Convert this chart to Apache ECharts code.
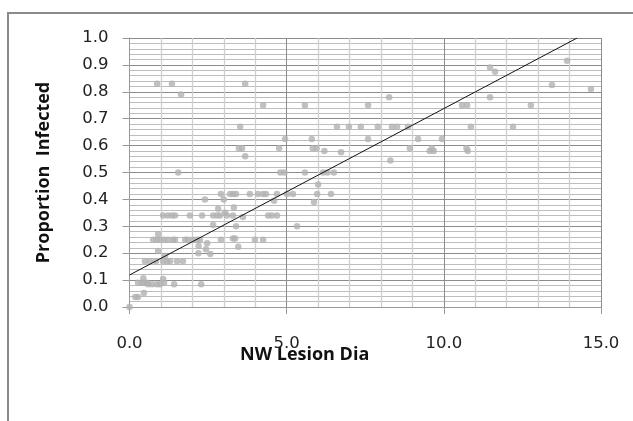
<!DOCTYPE html>
<html><head><meta charset="utf-8">
<script src="https://cdn.jsdelivr.net/npm/echarts@6/dist/echarts.min.js"></script>
<style>html,body{margin:0;padding:0;background:#fff}#c{width:633px;height:421px}</style>
</head><body><div id="c"></div>
<script>
// Scatter observations [NW Lesion Dia, Proportion Infected]
const upperPoints = [
 [0.88,0.83],[1.35,0.83],[1.64,0.79],[3.68,0.83],[4.25,0.75],[5.58,0.75],[3.52,0.67],
 [3.48,0.59],[3.58,0.59],[3.68,0.56],[1.55,0.50],[4.76,0.59],[4.95,0.625],[4.80,0.50],
 [4.93,0.50],[5.58,0.50],[5.80,0.625],[5.83,0.59],[5.95,0.59],[6.20,0.58],[6.60,0.67],
 [6.98,0.67],[7.36,0.67],[7.90,0.67],[8.35,0.67],[8.51,0.67],[8.86,0.67],[7.59,0.75],
 [8.26,0.78],[7.59,0.625],[6.73,0.575],[8.92,0.59],[9.18,0.625],[9.55,0.58],[9.62,0.59],
 [9.68,0.58],[9.94,0.625],[8.30,0.545],[6.16,0.50],[6.30,0.50],[6.50,0.50],[6.00,0.455],
 [5.97,0.42],[6.41,0.42],[5.87,0.39],[10.58,0.75],[10.74,0.75],[11.47,0.89],[11.63,0.875],
 [11.47,0.78],[10.86,0.67],[10.72,0.59],[10.76,0.58],[12.20,0.67],[12.77,0.75],[13.44,0.825],
 [13.92,0.915],[14.68,0.81]
];
const middlePoints = [
 [2.91,0.42],[3.20,0.42],[3.30,0.42],[3.39,0.42],[3.83,0.42],[4.09,0.42],[4.25,0.42],
 [4.34,0.42],[4.69,0.42],[5.01,0.42],[5.20,0.42],[2.40,0.40],[3.00,0.40],[4.60,0.395],
 [3.32,0.37],[2.82,0.365],[3.04,0.35],
 [1.07,0.34],[1.22,0.34],[1.35,0.34],[1.45,0.34],[1.92,0.34],[2.31,0.34],[2.66,0.34],
 [2.78,0.34],[2.88,0.34],[3.10,0.34],[3.29,0.34],[3.61,0.335],[4.41,0.34],[4.53,0.34],
 [4.69,0.34],[2.66,0.305],[3.39,0.30],[5.33,0.30]
];
const lowerPoints = [
 [0.75,0.25],[0.87,0.25],[0.97,0.25],[1.10,0.25],[1.22,0.25],[1.38,0.25],[1.45,0.25],
 [1.77,0.25],[1.86,0.25],[2.02,0.25],[2.15,0.25],[2.24,0.25],[2.91,0.25],[3.29,0.255],
 [3.36,0.255],[3.99,0.25],[4.25,0.25],[0.91,0.27],[2.20,0.227],[2.47,0.237],[0.91,0.208],
 [2.19,0.20],[2.43,0.215],[2.57,0.197],[3.46,0.224],
 [0.49,0.17],[0.65,0.17],[0.84,0.17],[1.07,0.17],[1.19,0.17],[1.29,0.17],[1.51,0.17],
 [1.70,0.17],[1.13,0.19],
 [0.27,0.09],[0.40,0.09],[0.46,0.09],[0.56,0.09],[0.59,0.085],[0.72,0.085],[0.87,0.085],
 [0.97,0.085],[1.10,0.09],[1.42,0.085],[2.28,0.085],[0.44,0.107],[1.07,0.104],
 [0.18,0.037],[0.27,0.037],[0.46,0.052],[0.00,0.00]
];
const trendLine = [[0,0.119],[14.24,1.0]];
const xTicks = [0,5,10,15];
const yTicks = [0,0.1,0.2,0.3,0.4,0.5,0.6,0.7,0.8,0.9,1.0];

const chart = echarts.init(document.getElementById('c'), null, {renderer:'canvas'});
chart.setOption({
  animation:false,
  backgroundColor:'#fff',
  grid:{left:129.5,right:32,top:38,bottom:114,containLabel:false},
  xAxis:{type:'value',min:xTicks[0],max:xTicks[xTicks.length-1],interval:5,
    axisLine:{show:true,lineStyle:{color:'#999',width:1}},
    axisTick:{show:true,length:7,inside:false,lineStyle:{color:'#999'}},
    axisLabel:{margin:28,color:'#222',fontFamily:'DejaVu Sans',fontSize:16.5,formatter:v=>v.toFixed(1)},
    splitLine:{show:true,lineStyle:{color:'#8c8c8c',width:1}},
    minorTick:{show:false,splitNumber:5},
    minorSplitLine:{show:true,lineStyle:{color:'#cfcfcf',width:1.3}}
  },
  yAxis:{type:'value',min:0,max:1,interval:0.1,
    name:'Proportion  Infected',nameLocation:'middle',nameGap:77,
    nameTextStyle:{fontFamily:'Open Sans',fontWeight:'bold',fontSize:18,color:'#111'},
    axisLine:{show:true,lineStyle:{color:'#999'}},
    axisTick:{show:true,length:7,lineStyle:{color:'#999'}},
    axisLabel:{margin:21,color:'#222',fontFamily:'DejaVu Sans',fontSize:16.5,formatter:v=>v.toFixed(1)},
    splitLine:{show:true,lineStyle:{color:'#8c8c8c',width:1}},
    minorTick:{show:false,splitNumber:5},
    minorSplitLine:{show:true,lineStyle:{color:'#bdbdbd',width:1}}
  },
  graphic:[
    {type:'rect',shape:{x:8,y:13,width:700,height:500},style:{fill:'none',stroke:'#8a8a8a',lineWidth:2},z:-1},
    {type:'text',left:240,top:346,style:{text:'NW Lesion Dia',font:'bold 18px "Open Sans"',fill:'#111'}}
  ],
  series:[
    {type:'scatter',data:upperPoints.concat(middlePoints,lowerPoints),symbolSize:6.5,
     itemStyle:{color:'#b1b1b1'},z:3},
    {type:'line',data:trendLine,showSymbol:false,symbol:'none',
     lineStyle:{color:'#111',width:1},z:4}
  ]
});
</script></body></html>
